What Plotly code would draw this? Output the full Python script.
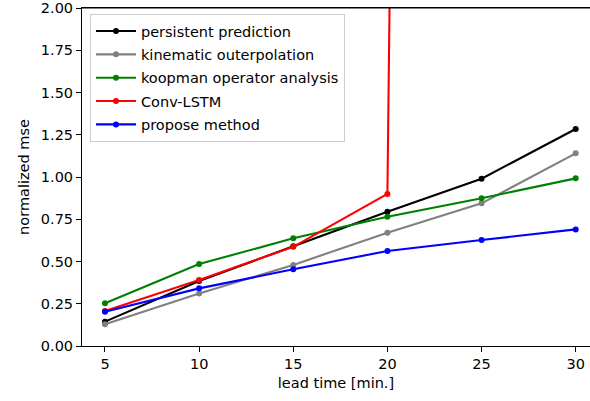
import plotly.graph_objects as go

lead_time = [5, 10, 15, 20, 25, 30]
persistent = [0.144, 0.385, 0.59, 0.795, 0.99, 1.284]
kinematic = [0.128, 0.31, 0.48, 0.67, 0.844, 1.14]
koopman = [0.253, 0.485, 0.637, 0.765, 0.874, 0.992]
conv_lstm = [0.207, 0.39, 0.587, 0.90, 50.0, 60.0]
proposed = [0.203, 0.341, 0.454, 0.562, 0.627, 0.69]

series = [
    ("persistent prediction", persistent, "black"),
    ("kinematic outerpolation", kinematic, "gray"),
    ("koopman operator analysis", koopman, "green"),
    ("Conv-LSTM", conv_lstm, "red"),
    ("propose method", proposed, "blue"),
]

font_family = "DejaVu Sans"
fs = 14.5

fig = go.Figure()
for i, (name, vals, color) in enumerate(series):
    fig.add_trace(go.Scatter(
        x=lead_time, y=vals, name=name, mode="lines+markers",
        line=dict(color=color, width=2.1),
        marker=dict(color=color, size=6),
        legendgroup=f"g{i}",
    ))

fig.update_layout(
    width=590, height=401,
    margin=dict(l=82, r=0, t=8, b=55),
    paper_bgcolor="white", plot_bgcolor="white",
    font=dict(family=font_family, size=fs, color="black"),
    showlegend=True,
    legend=dict(
        x=0.0157, y=0.982, xanchor="left", yanchor="top",
        bgcolor="rgba(255,255,255,0.8)", bordercolor="#cccccc", borderwidth=1,
        font=dict(family=font_family, size=fs, color="black"),
        tracegroupgap=1.5, itemwidth=40,
    ),
    xaxis=dict(
        range=[3.779, 30.76], tickvals=lead_time, ticktext=[str(v) for v in lead_time],
        showgrid=False, zeroline=False, showline=True, linecolor="black", linewidth=1,
        mirror=True, ticks="outside", ticklen=5, tickcolor="black", tickwidth=1,
        ticklabeloverflow="allow",
        title=dict(text="lead time [min.]", standoff=6, font=dict(size=fs)),
    ),
    yaxis=dict(
        range=[0, 2], tickvals=[0, 0.25, 0.5, 0.75, 1.0, 1.25, 1.5, 1.75, 2.0],
        ticktext=["0.00", "0.25", "0.50", "0.75", "1.00", "1.25", "1.50", "1.75", "2.00"],
        showgrid=False, zeroline=False, showline=True, linecolor="black", linewidth=1,
        mirror=False, ticks="outside", ticklen=5, tickcolor="black", tickwidth=1,
        ticklabeloverflow="allow",
        title=dict(text="normalized mse", standoff=7, font=dict(size=fs)),
    ),
    shapes=[dict(type="line", xref="paper", yref="paper", x0=0, x1=1, y0=1, y1=1,
                 line=dict(color="black", width=1), layer="above")],
)

fig.write_html("out.html")
